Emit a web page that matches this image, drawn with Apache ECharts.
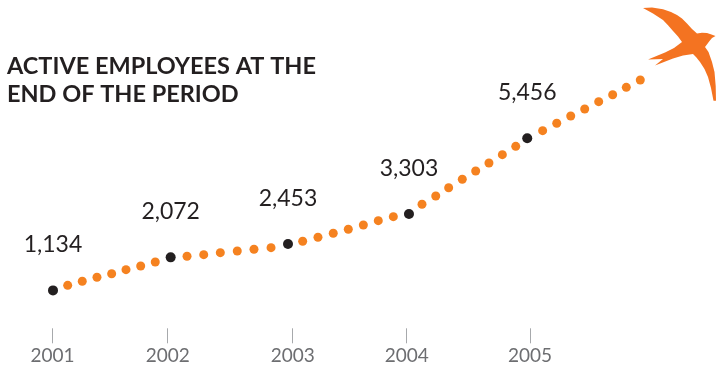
<!DOCTYPE html>
<html>
<head>
<meta charset="utf-8">
<style>html,body{margin:0;padding:0;background:#fff}#chart{width:720px;height:369px}</style>
<script src="https://cdn.jsdelivr.net/npm/echarts@6/dist/echarts.min.js"></script>
</head>
<body>
<div id="chart"></div>
<script>
// Year-end headcount (black markers)
const periodYears = [2001, 2001.993, 2002.983, 2004.004, 2005.002];
const periodValues = [1134, 2072, 2453, 3303, 5456];

// Connecting trail of dots between the year-end figures
const trailYears = [
  2001.124, 2001.247, 2001.371, 2001.495, 2001.616, 2001.740, 2001.863,
  2002.131, 2002.272, 2002.412, 2002.555, 2002.696, 2002.840,
  2003.107, 2003.236, 2003.365, 2003.492, 2003.619, 2003.745, 2003.872,
  2004.114, 2004.230, 2004.339, 2004.454, 2004.567, 2004.679, 2004.792, 2004.905,
  2005.132, 2005.251, 2005.369, 2005.487, 2005.605, 2005.723, 2005.838, 2005.956
];
const trailValues = [
  1278, 1392, 1506, 1608, 1722, 1827, 1941,
  2103, 2148, 2205, 2253, 2301, 2347,
  2529, 2642, 2756, 2870, 2992, 3114, 3228,
  3580, 3815, 4051, 4290, 4526, 4753, 4989, 5227,
  5671, 5881, 6088, 6287, 6495, 6693, 6903, 7111
];

// Year marks on the axis and their captions
const yearMarks = [2000.996, 2001.968, 2003.023, 2003.985, 2005.025];
const yearLabels = ['2001', '2002', '2003', '2004', '2005'];

const titleLines = ['ACTIVE EMPLOYEES AT THE', 'END OF THE PERIOD'];

const fontFamily = 'Lato, "Open Sans", sans-serif';
const orange = '#f58220';
const ink = '#231f20';

// Swift silhouette at the head of the trail
const swiftOutline = [
  [643,8],[652,7.5],[663,9.3],[671,12],[677,15],[682,18.5],[687,23.5],[692,29],[697,33.5],
  [702,32.8],[707,33],[711.5,34.5],[715.5,36],[712,38],[709.5,41],[705,47],[708.5,52],[712,62],
  [714.5,72],[715.7,86],[716,100.7],[713.5,100.7],[711,88],[708,77],[704.5,69],[700,62],
  [696,57],[693,54],[683,55.5],[673,58.5],[655,65.5],[663,59],[648,59.5],[665,52.5],
  [674,48],[682,42],[678,36.5],[673,31],[668,25.2],[663,20],[653,13.5]
];

const chart = echarts.init(document.getElementById('chart'));
chart.setOption({
  animation: false,
  backgroundColor: '#fff',
  title: {
    text: titleLines.join('\n'),
    left: 7,
    top: 52,
    padding: 0,
    textStyle: { fontFamily, fontWeight: 700, fontSize: 23.5, lineHeight: 28, color: ink }
  },
  grid: { left: 41.15, right: 74.5, top: 48.7, bottom: 38.7 },
  xAxis: {
    type: 'value',
    min: 2000.9,
    max: 2006,
    offset: -2,
    splitLine: { show: false },
    axisLine: { show: true, lineStyle: { opacity: 0 } },
    axisTick: {
      show: true,
      length: 15,
      customValues: yearMarks,
      lineStyle: { color: '#a7a9ac', width: 1 }
    },
    axisLabel: {
      show: true,
      customValues: yearMarks,
      margin: 18,
      color: '#6d6e71',
      fontFamily,
      fontSize: 19,
      formatter: (v) => yearLabels[yearMarks.indexOf(v)]
    }
  },
  yAxis: { type: 'value', min: 0, max: 8000, show: false, splitLine: { show: false } },
  series: [
    {
      name: 'Trail',
      type: 'scatter',
      symbolSize: 9,
      itemStyle: { color: orange, opacity: 1 },
      data: trailYears.map((y, i) => [y, trailValues[i]]),
      silent: true
    },
    {
      name: 'Active employees',
      type: 'scatter',
      symbolSize: 10,
      itemStyle: { color: ink, opacity: 1 },
      data: periodYears.map((y, i) => [y, periodValues[i]]),
      label: {
        show: true,
        position: 'top',
        distance: 29,
        color: ink,
        fontFamily,
        fontSize: 23,
        formatter: (p) => p.value[1].toLocaleString('en-US')
      },
      silent: true
    }
  ],
  graphic: [
    { type: 'polygon', shape: { points: swiftOutline }, style: { fill: '#f47321' }, silent: true }
  ]
});
</script>
</body>
</html>
